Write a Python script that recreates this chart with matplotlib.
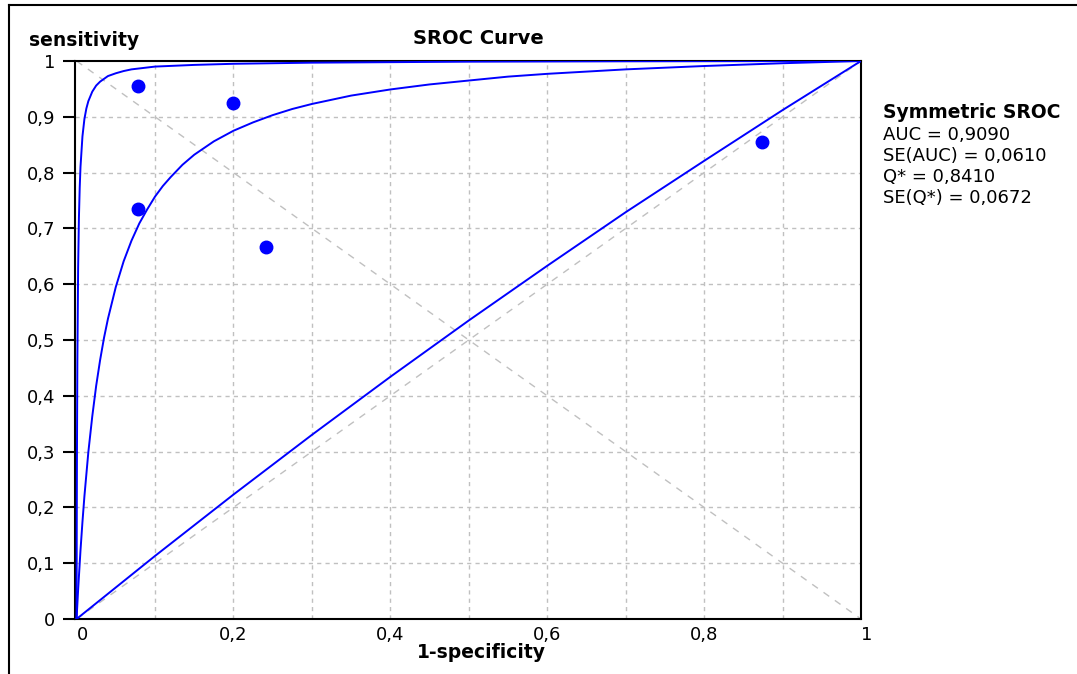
import numpy as np
import matplotlib.pyplot as plt
from matplotlib.lines import Line2D
import matplotlib.transforms as mtransforms

# study points (1-specificity, sensitivity)
study_fpr = [0.078, 0.200, 0.078, 0.242, 0.874]
study_sens = [0.955, 0.924, 0.735, 0.667, 0.854]

# symmetric SROC curve
sroc_fpr = [0.0, 0.002, 0.005, 0.0075, 0.01, 0.015, 0.02, 0.025, 0.03, 0.035, 0.04,
            0.05, 0.06, 0.07, 0.08, 0.09, 0.10, 0.11, 0.12, 0.135, 0.15, 0.175, 0.20,
            0.225, 0.25, 0.275, 0.30, 0.35, 0.40, 0.45, 0.50, 0.55, 0.60, 0.70, 0.80,
            0.90, 1.0]
sroc_sens = [0.0, 0.053, 0.123, 0.174, 0.220, 0.299, 0.363, 0.418, 0.464, 0.504, 0.538,
             0.595, 0.641, 0.678, 0.709, 0.734, 0.757, 0.776, 0.792, 0.814, 0.832, 0.856, 0.875,
             0.890, 0.903, 0.914, 0.923, 0.938, 0.949, 0.958, 0.965, 0.972, 0.977, 0.985, 0.991,
             0.996, 1.0]

# upper limit curve
upper_fpr = [0.0, 0.0002, 0.0005, 0.001, 0.002, 0.003, 0.004, 0.005, 0.0075, 0.01, 0.0125,
             0.015, 0.02, 0.025, 0.03, 0.04, 0.05, 0.06, 0.07, 0.10, 0.15, 0.20, 0.30,
             0.50, 0.70, 1.0]
upper_sens = [0.0, 0.145, 0.298, 0.460, 0.630, 0.719, 0.773, 0.810, 0.865, 0.896, 0.915,
              0.928, 0.945, 0.956, 0.963, 0.973, 0.978, 0.982, 0.985, 0.990, 0.993, 0.995, 0.997,
              0.9988, 0.9995, 1.0]

# lower limit curve (almost the diagonal)
lower_fpr = [0.0, 0.1, 0.2, 0.3, 0.4, 0.5, 0.6, 0.7, 0.8, 0.9, 1.0]
lower_sens = [0.0, 0.113, 0.223, 0.330, 0.434, 0.535, 0.633, 0.729, 0.821, 0.912, 1.0]

x_ticks = [0, 0.2, 0.4, 0.6, 0.8, 1.0]
x_tick_labels = ['0', '0,2', '0,4', '0,6', '0,8', '1']
y_ticks = [0, 0.1, 0.2, 0.3, 0.4, 0.5, 0.6, 0.7, 0.8, 0.9, 1.0]
y_tick_labels = ['0', '0,1', '0,2', '0,3', '0,4', '0,5', '0,6', '0,7', '0,8', '0,9', '1']

stats_title = 'Symmetric SROC'
stats_lines = ['AUC = 0,9090', 'SE(AUC) = 0,0610', 'Q* = 0,8410', 'SE(Q*) = 0,0672']

W, H = 1077, 674
fig = plt.figure(figsize=(W / 100, H / 100), dpi=100)
ax = fig.add_axes([75 / W, 1 - 619 / H, 786 / W, 558 / H])

blue = '#0000ff'
grey = '#c0c0c0'

# grid every 0.1
for v in np.arange(1, 10) / 10:
    ax.axvline(v, color=grey, lw=1, dashes=(3, 3), zorder=1)
    ax.axhline(v, color=grey, lw=1, dashes=(3, 3), zorder=1)

# reference diagonals
ax.plot([0, 1], [0, 1], color=grey, lw=1, dashes=(5, 5), zorder=1)
ax.plot([0, 1], [1, 0], color=grey, lw=1, dashes=(5, 5), zorder=1)

ax.plot(upper_fpr, upper_sens, color=blue, lw=1.4, zorder=3)
ax.plot(sroc_fpr, sroc_sens, color=blue, lw=1.4, zorder=3)
ax.plot(lower_fpr, lower_sens, color=blue, lw=1.4, zorder=3)
ax.plot(study_fpr, study_sens, 'o', color=blue, ms=9, mec=blue, zorder=4)

ax.set_xlim(-0.002, 1.0)
ax.set_ylim(0, 1)

ax.set_xticks(x_ticks)
ax.set_xticklabels(x_tick_labels)
ax.set_yticks(y_ticks)
ax.set_yticklabels(y_tick_labels)
ax.tick_params(axis='x', length=0, pad=5, labelsize=13)
ax.tick_params(axis='y', length=9, width=1.5, pad=5, labelsize=13)

# first and last x labels sit a bit to the right in the original
labs = ax.get_xticklabels()
for i in (0, len(labs) - 1):
    labs[i].set_transform(labs[i].get_transform() +
                          mtransforms.ScaledTranslation(6 / 100, 0, fig.dpi_scale_trans))

for s in ax.spines.values():
    s.set_color('black')
    s.set_linewidth(1.5)

fig.text(84 / W, 1 - 40 / H, 'sensitivity', ha='center', va='center',
         fontsize=13.5, fontweight='bold')
fig.text(478 / W, 1 - 38 / H, 'SROC Curve', ha='center', va='center',
         fontsize=14, fontweight='bold')
fig.text(481 / W, 1 - 652 / H, '1-specificity', ha='center', va='center',
         fontsize=13.5, fontweight='bold')

fig.text(883 / W, 1 - 113 / H, stats_title, ha='left', va='center',
         fontsize=13.5, fontweight='bold')
for i, line in enumerate(stats_lines):
    fig.text(883 / W, 1 - (135 + 21 * i) / H, line, ha='left', va='center', fontsize=13)

# window border (left and top)
fig.add_artist(Line2D([8.5 / W, 8.5 / W], [0, 1 - 5 / H], color='black', lw=1.5,
                      transform=fig.transFigure))
fig.add_artist(Line2D([8.5 / W, 1], [1 - 5 / H, 1 - 5 / H], color='black', lw=1.5,
                      transform=fig.transFigure))

fig.savefig('out.png', dpi=100)
